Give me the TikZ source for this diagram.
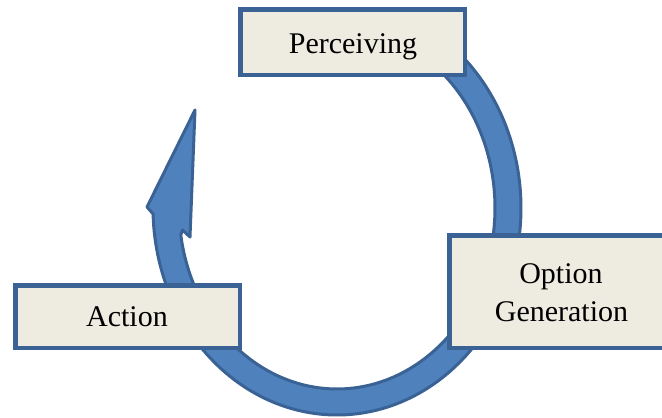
\documentclass[tikz,border=0pt]{standalone}
\usepackage{fontspec}
\setmainfont{Liberation Serif}
\definecolor{boxfill}{HTML}{EEECE1}
\definecolor{boxline}{HTML}{3A6294}
\definecolor{arrowfill}{HTML}{4F81BD}
\definecolor{arrowline}{HTML}{3A6294}
\begin{document}
\begin{tikzpicture}[x=1pt,y=1pt,
  stagebox/.style={rectangle, draw=boxline, line width=4.5pt, fill=boxfill, inner sep=0pt},
  stagetext/.style={font=\fontsize{30}{37}\selectfont, text=black, anchor=base, inner sep=0pt},
  cyclearrow/.style={fill=arrowfill, draw=arrowline, line width=3pt, line join=round}]
  \useasboundingbox (0,0) rectangle (662,-418);
  \clip (0,0) rectangle (662,-418);

  % curved band running clockwise from the top, ending in a head on the left
  \path[cyclearrow]
    plot[domain=60:-178.35, samples=150] ({337+184*cos(\x)}, {-208+207*sin(\x)})
    -- (147,-207) -- (195,-110) -- (190,-237) -- (182.5,-230)
    -- plot[domain=-171.4:60, samples=150] ({337+158*cos(\x)}, {-208+181*sin(\x)})
    -- cycle;

  % stage boxes
  \node[stagebox, minimum width=224.5pt, minimum height=65.5pt] (perceive) at (352.5,-42) {};
  \node[stagebox, minimum width=223.5pt, minimum height=112.5pt] (option) at (561,-291.5) {};
  \node[stagebox, minimum width=224.5pt, minimum height=62.5pt] (action) at (127.5,-316.5) {};

  % stage names
  \node[stagetext] (perceivetext) at (353,-53) {Perceiving};
  \node[stagetext] (optiontext) at (561,-283) {Option};
  \node[stagetext] (gentext) at (561.5,-321) {Generation};
  \node[stagetext] (actiontext) at (127,-326) {Action};
\end{tikzpicture}
\end{document}
